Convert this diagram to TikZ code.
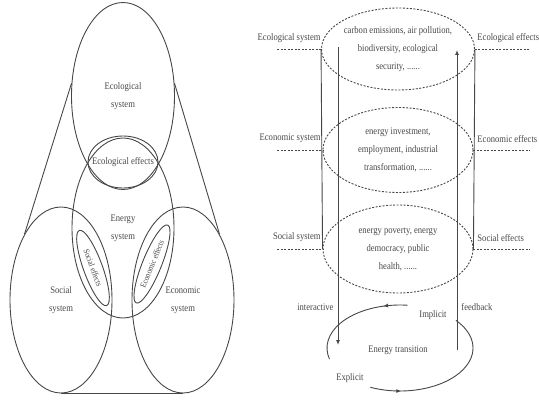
\documentclass[tikz,border=0pt]{standalone}
\usepackage{fontspec}
\setmainfont[FakeStretch=0.86]{Liberation Serif}
\usetikzlibrary{shapes.geometric,arrows.meta,decorations.markings}
\begin{document}
\begin{tikzpicture}[x=1pt,y=1pt,line width=0.9pt,color=black!72,
	sys/.style={ellipse,draw,inner sep=0pt,align=center,font=\fontsize{10}{18}\selectfont},
	effsmall/.style={sys,font=\fontsize{8.5}{10}\selectfont},
	dline/.style={dash pattern=on 2pt off 1.5pt},
	issue/.style={sys,dline,minimum width=150pt},
	lab/.style={inner sep=1pt,font=\fontsize{10}{12}\selectfont},
	onpath/.style={postaction={decorate},decoration={markings,mark=at position #1 with {\arrow{Latex[length=5pt,width=4pt]}}}}]
	\useasboundingbox (0,0) rectangle (539,400);
	% left part: the five systems
	\node[sys,minimum width=103pt,minimum height=187pt] (ecosys) at (123,304) {Ecological\\system};
	\node[lab,inner sep=0pt] (ecoeff) at (123,238) {Ecological effects};
	\draw (ecoeff.center) ellipse (35pt and 26pt);
	\node[sys,minimum width=102pt,minimum height=180pt] (enesys) at (123,172) {Energy\\system};
	\node[sys,minimum width=102pt,minimum height=186pt] (socsys) at (61,100) {Social\\system};
	\node[sys,minimum width=102pt,minimum height=186pt] (ecnsys) at (183,100) {Economic\\system};
	\node[effsmall,minimum width=80pt,minimum height=19pt,rotate=-70] (soceff) at (93,132) {Social effects};
	\node[effsmall,minimum width=84pt,minimum height=19pt,rotate=68] (ecneff) at (152,136) {Economic effects};
	% outline
	\draw (ecosys.166) -- (socsys.119);
	\draw (ecosys.14) -- (ecnsys.61);
	\draw (socsys.south) -- (ecnsys.south);
	% right part: the three fields
	\node[issue,minimum height=82pt] (ecoiss) at (398,351) {carbon emissions, air pollution,\\biodiversity, ecological\\security, ......};
	\node[issue,minimum height=85pt] (ecniss) at (398,250) {energy investment,\\employment, industrial\\transformation, ......};
	\node[issue,minimum height=88pt] (sociss) at (398,151) {energy poverty, energy\\democracy, public\\health, ......};
	\draw (ecoiss.west) -- (sociss.west);
	\draw (ecoiss.east) -- (sociss.east);
	% system labels
	\node[lab,anchor=south east] (lecosys) at (322,356) {Ecological system};
	\node[lab,anchor=south east] (lecnsys) at (322,256) {Economic system};
	\node[lab,anchor=south east] (lsocsys) at (322,157) {Social system};
	\coordinate (dl1) at (277,351);
	\coordinate (dl2) at (277,250);
	\coordinate (dl3) at (277,151);
	\draw[dline] (dl1) -- (ecoiss.west);
	\draw[dline] (dl2) -- (ecniss.west);
	\draw[dline] (dl3) -- (sociss.west);
	% effect labels
	\node[lab,anchor=south west] (lecoeff) at (476,356) {Ecological effects};
	\node[lab,anchor=south west] (lecneff) at (476,256) {Economic effects};
	\node[lab,anchor=south west] (lsoceff) at (476,157) {Social effects};
	\coordinate (dr1) at (530,351);
	\coordinate (dr2) at (530,250);
	\coordinate (dr3) at (530,151);
	\draw[dline] (ecoiss.east) -- (dr1);
	\draw[dline] (ecniss.east) -- (dr2);
	\draw[dline] (sociss.east) -- (dr3);
	% interactive and feedback
	\coordinate (itop) at (338,353);
	\coordinate (ibot) at (338,55);
	\coordinate (fbot) at (457,50);
	\coordinate (ftop) at (457,350);
	\draw[-{Latex[length=5pt,width=4pt]}] (itop) -- (ibot);
	\draw[-{Latex[length=5pt,width=4pt]}] (fbot) -- (ftop);
	\node[lab,anchor=east] (inter) at (335,93) {interactive};
	\node[lab,anchor=west] (feed) at (460,93) {feedback};
	% energy transition cycle
	\node[lab] (enetr) at (398,50) {Energy transition};
	\node[lab] (impl) at (433,85) {Implicit};
	\node[lab] (expl) at (350,22) {Explicit};
	\coordinate (cyc) at (400,52);
	\draw[onpath=0.22] (cyc) ++(84:73pt and 43pt) arc (84:195:73pt and 43pt);
	\draw[onpath=0.2] (cyc) ++(246:73pt and 43pt) arc (246:400:73pt and 43pt);
\end{tikzpicture}
\end{document}
